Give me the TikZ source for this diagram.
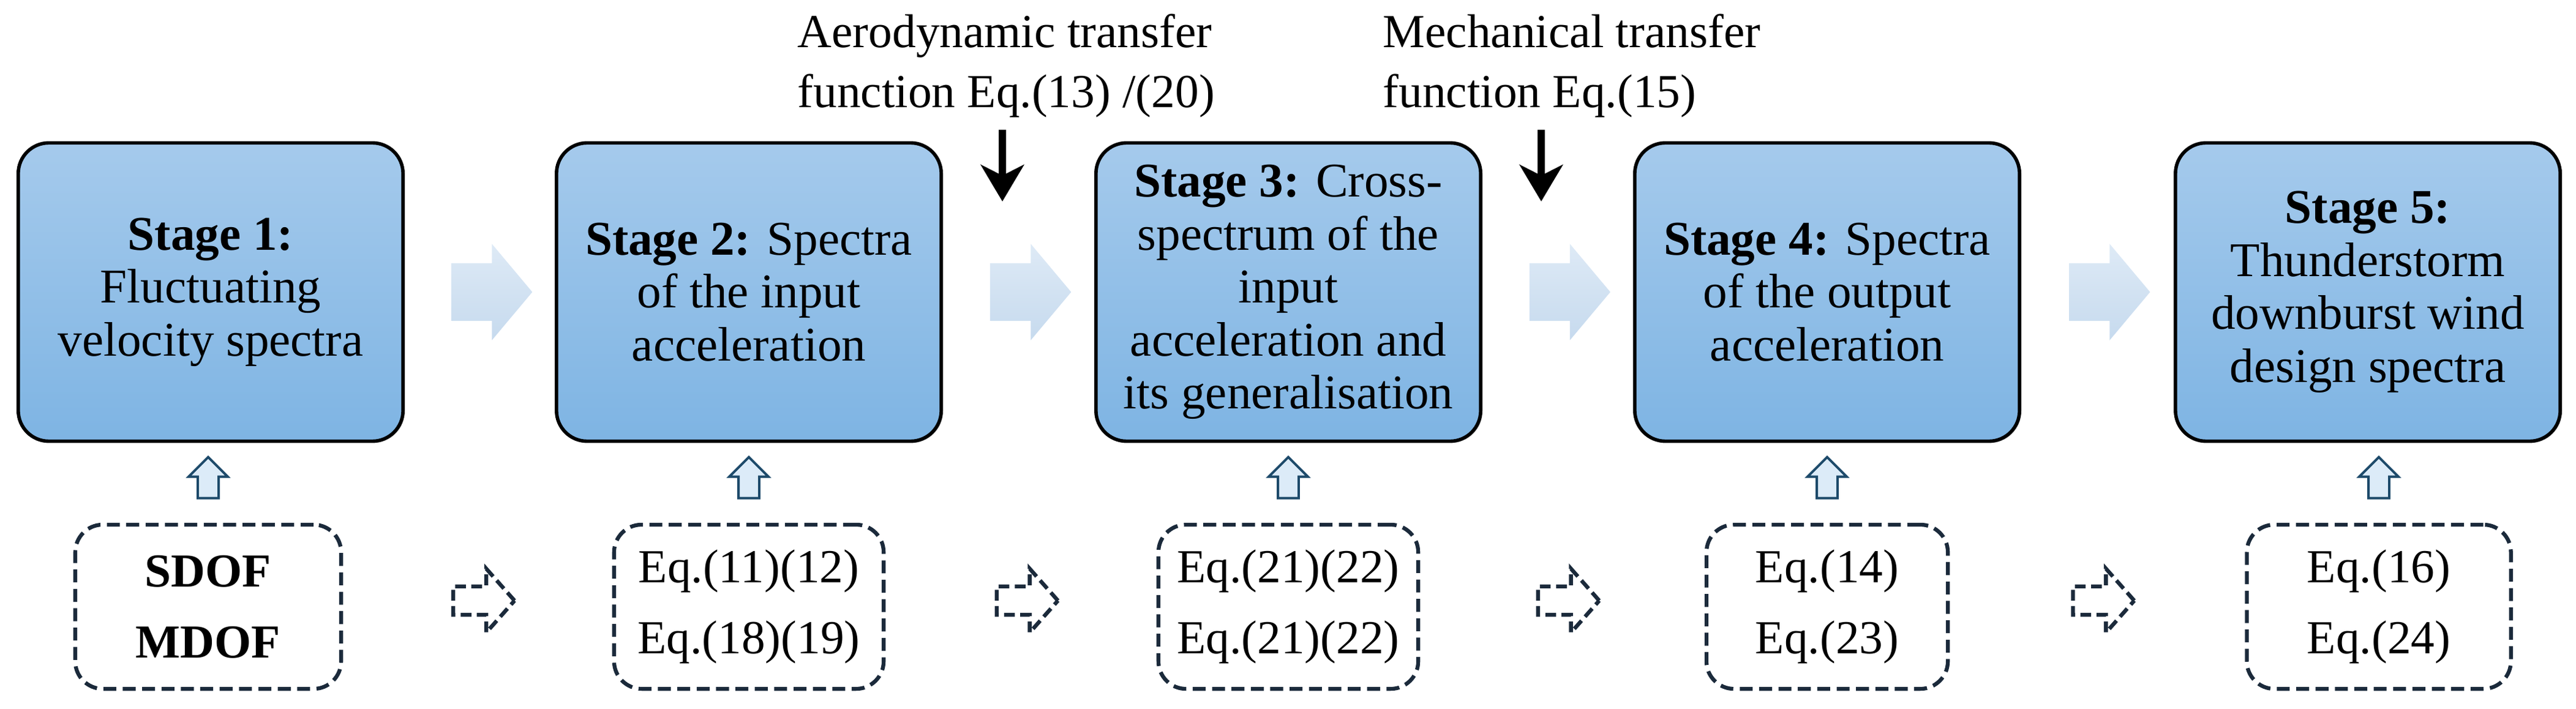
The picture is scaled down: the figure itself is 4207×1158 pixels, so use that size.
\documentclass[tikz,border=0pt]{standalone}
\usepackage{fontspec}
\setmainfont{Liberation Serif}
\usetikzlibrary{arrows.meta, calc, shapes.arrows, shadows}

\definecolor{stagetop}{HTML}{A5CAEC}
\definecolor{stagebot}{HTML}{7EB4E3}
\definecolor{flowtop}{HTML}{DEEAF6}
\definecolor{flowbot}{HTML}{C6DAEE}
\definecolor{navy}{HTML}{1B2A3B}
\definecolor{liftline}{HTML}{1D4A6A}
\definecolor{liftfill}{HTML}{DCEBF8}

\tikzset{
	stage/.style = {draw, line width = 1.6 pt, rounded corners = 0.5 cm, top color = stagetop, bottom color = stagebot,
		minimum width = 6.28 cm, minimum height = 4.87 cm, align = center,
		drop shadow = {opacity = 0.25, shadow xshift = 0.8 pt, shadow yshift = -0.8 pt}},
	eqbox/.style = {draw = navy, line width = 1.8 pt, dash pattern = on 6 pt off 3 pt, rounded corners = 0.45 cm,
		minimum height = 2.68 cm, align = center, font = \fontsize{22}{33}\selectfont},
	flow/.style = {single arrow, draw = none, top color = flowtop, bottom color = flowbot, inner xsep = 0 pt,
		inner ysep = 0.465 cm, single arrow head extend = 0.315 cm, single arrow tip angle = 100, minimum height = 1.32 cm},
	lift/.style = {single arrow, draw = liftline, fill = liftfill, line width = 1.1 pt, inner xsep = 0 pt,
		inner ysep = 0.15 cm, single arrow head extend = 0.15 cm, minimum height = 0.67 cm, rotate = 90},
	hint/.style = {single arrow, draw = navy, line width = 1.8 pt, dash pattern = on 5 pt off 2.5 pt, inner xsep = 0 pt,
		inner ysep = 0.2 cm, single arrow head extend = 0.29 cm, single arrow tip angle = 97, minimum height = 1.0 cm},
	push/.style = {line width = 3.4 pt, -{Stealth[length=17pt, width=20pt, inset=5pt]}},
	note/.style = {anchor = north west, align = left, inner sep = 0 pt, font = \fontsize{22}{28}\selectfont}
}

\begin{document}
\begin{tikzpicture}[x = 0.01 cm, y = -0.01 cm, font = \fontsize{22.5}{24.6}\selectfont]

\useasboundingbox (0, 0) rectangle (4207, 1158);

\node [stage] (s1) at (344, 477) {\textbf{Stage 1:}\\Fluctuating\\velocity spectra};
\node [stage] (s2) at (1223, 477) {\textbf{Stage 2:} Spectra\\of the input\\acceleration};
\node [stage] (s3) at (2104, 477) {\textbf{Stage 3:} Cross-\\spectrum of the\\input\\acceleration and\\its generalisation};
\node [stage] (s4) at (2984, 477) {\textbf{Stage 4:} Spectra\\of the output\\acceleration};
\node [stage] (s5) at (3867, 477) {\textbf{Stage 5:}\\Thunderstorm\\downburst wind\\design spectra};

\node [flow] (f1) at ($(s1.east)!0.5!(s2.west)$) {};
\node [flow] (f2) at ($(s2.east)!0.5!(s3.west)$) {};
\node [flow] (f3) at ($(s3.east)!0.5!(s4.west)$) {};
\node [flow] (f4) at ($(s4.east)!0.5!(s5.west)$) {};

\node [note] (aero) at (1302, 22) {Aerodynamic transfer\\function Eq.(13) /(20)};
\node [note] (mech) at (2258, 22) {Mechanical transfer\\function Eq.(15)};

\coordinate (g1) at (1637, 212);
\coordinate (t1) at (1637, 329);
\coordinate (g2) at (2517, 212);
\coordinate (t2) at (2517, 329);

\draw [push] (g1) -- (t1);
\draw [push] (g2) -- (t2);

\node [eqbox, minimum width = 4.34 cm] (e1) at (340, 991) {\textbf{SDOF}\\\textbf{MDOF}};
\node [eqbox, minimum width = 4.40 cm] (e2) at (1223, 991) {Eq.(11)(12)\\Eq.(18)(19)};
\node [eqbox, minimum width = 4.24 cm] (e3) at (2104, 991) {Eq.(21)(22)\\Eq.(21)(22)};
\node [eqbox, minimum width = 3.94 cm] (e4) at (2984, 991) {Eq.(14)\\Eq.(23)};
\node [eqbox, minimum width = 4.31 cm] (e5) at (3885, 991) {Eq.(16)\\Eq.(24)};

\node [lift] (u1) at ($(e1.north)!0.5!(e1.north |- s1.south)$) {};
\node [lift] (u2) at ($(e2.north)!0.5!(e2.north |- s2.south)$) {};
\node [lift] (u3) at ($(e3.north)!0.5!(e3.north |- s3.south)$) {};
\node [lift] (u4) at ($(e4.north)!0.5!(e4.north |- s4.south)$) {};
\node [lift] (u5) at ($(e5.north)!0.5!(e5.north |- s5.south)$) {};

\node [hint, yshift = 1 mm] (h1) at ($(e1.east)!0.5!(e2.west)$) {};
\node [hint, yshift = 1 mm] (h2) at ($(e2.east)!0.5!(e3.west)$) {};
\node [hint, yshift = 1 mm] (h3) at ($(e3.east)!0.5!(e4.west)$) {};
\node [hint, yshift = 1 mm] (h4) at ($(e4.east)!0.5!(e5.west)$) {};

\end{tikzpicture}
\end{document}
